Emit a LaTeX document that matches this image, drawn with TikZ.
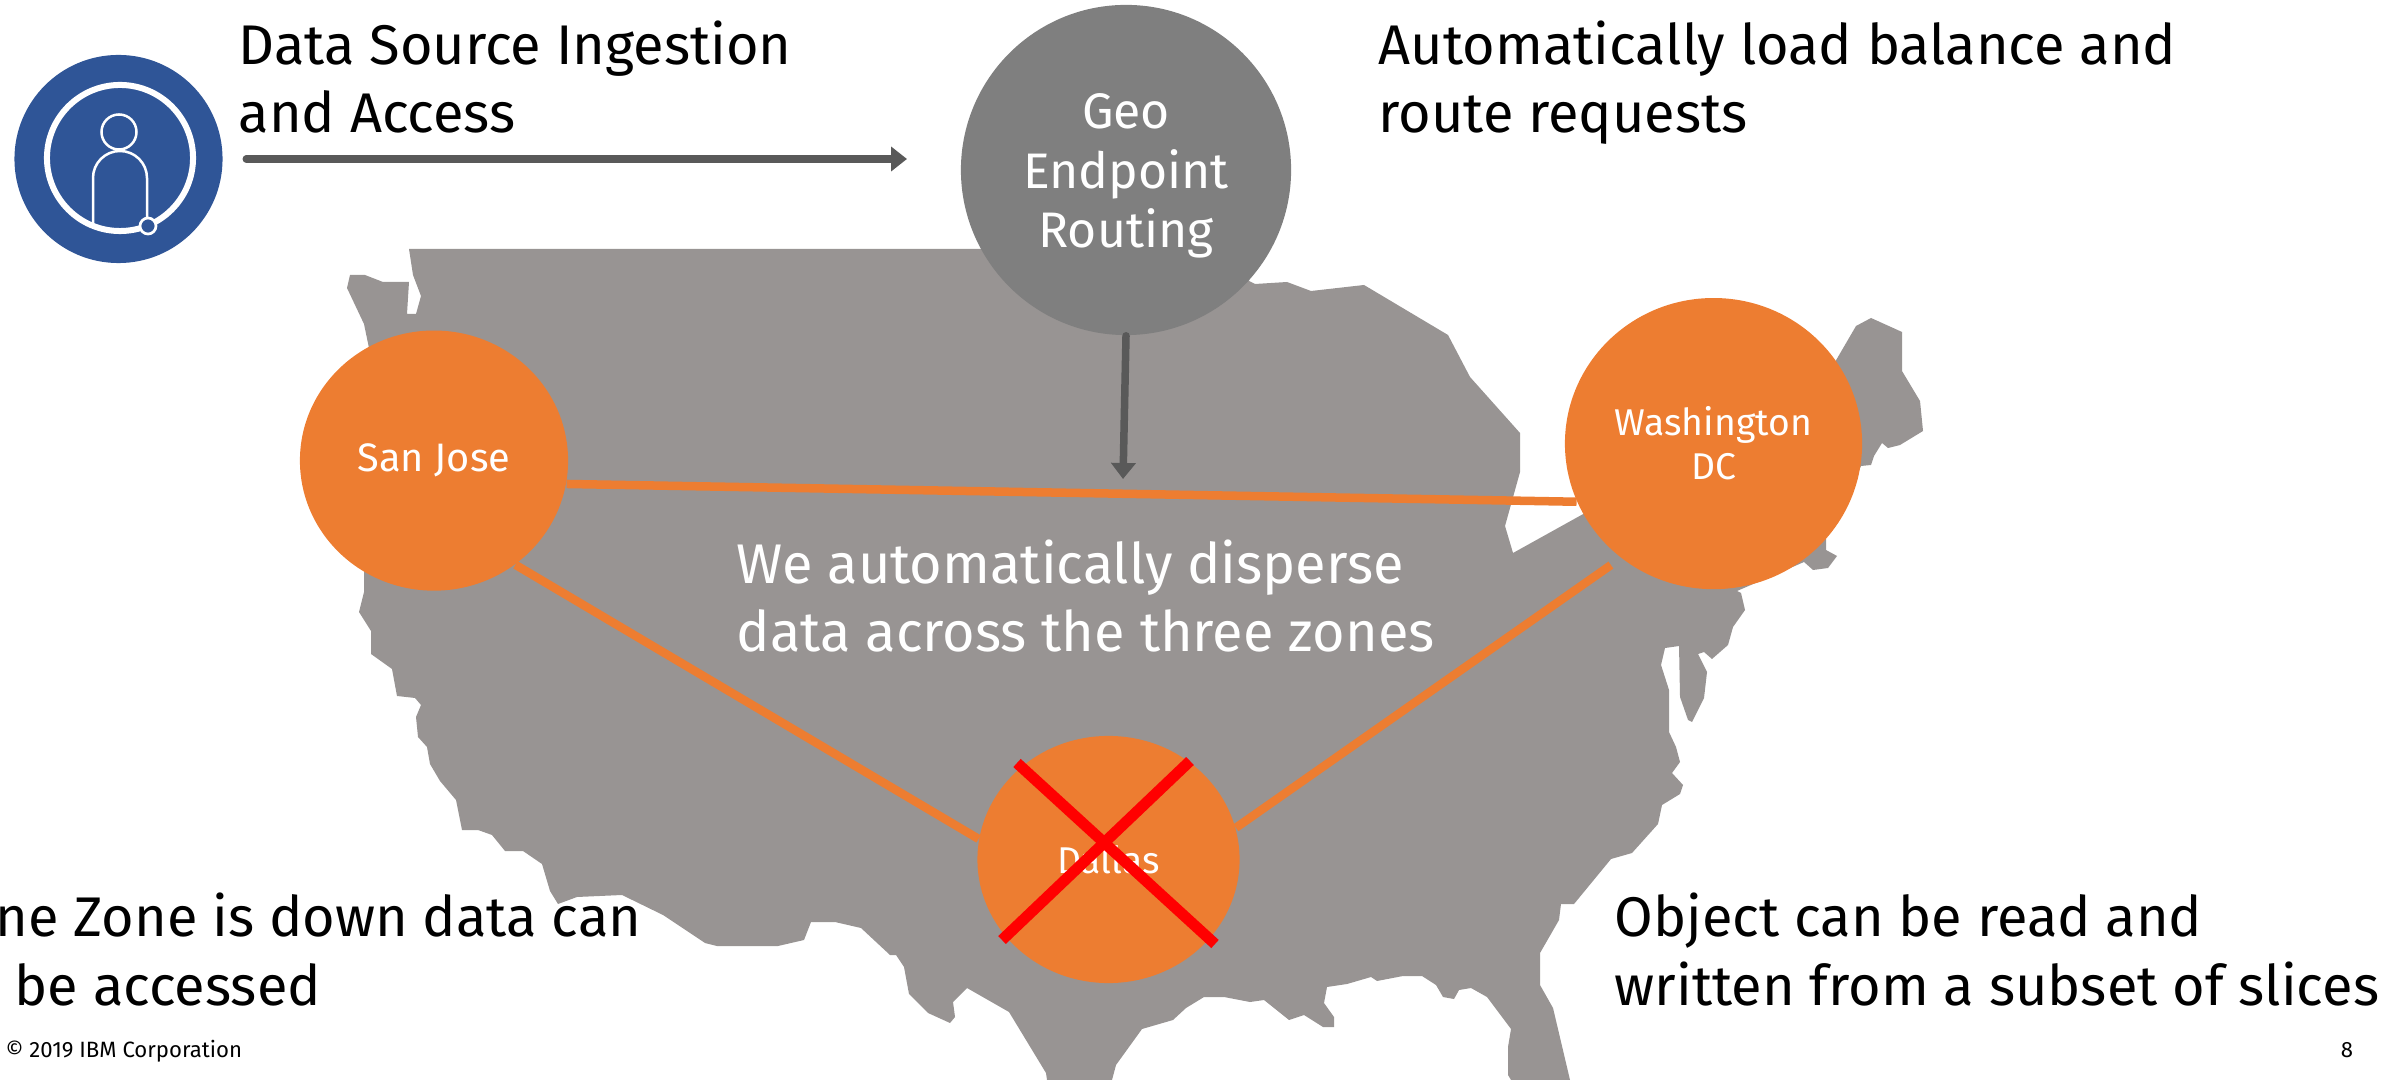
\documentclass[tikz,border=0pt]{standalone}
\usepackage{fontspec}
\setmainfont{Fira Sans}
\usetikzlibrary{shapes.geometric, arrows.meta}
\definecolor{mapgray}{HTML}{989493}
\definecolor{iconblue}{HTML}{2F5597}
\definecolor{zoneorange}{HTML}{ED7D31}
\definecolor{arrowgray}{HTML}{595959}
\definecolor{geogray}{HTML}{7F7F7F}
\tikzset{
  zone/.style={ellipse, fill=zoneorange, text=white, inner sep=0pt, align=center,
    font=\fontsize{10.6}{12.5}\selectfont},
  link/.style={draw=zoneorange, line width=0.085cm},
  feed/.style={draw=arrowgray, line width=0.075cm, line cap=round,
    -{Triangle[length=0.16cm,width=0.24cm]}},
  cross/.style={draw=red, line width=0.11cm},
  bigtext/.style={inner sep=0pt, anchor=base west,
    font=\fontsize{15.9}{19.35}\selectfont},
  small/.style={inner sep=0pt, font=\fontsize{6.3}{7.5}\selectfont}
}
\begin{document}
\begin{tikzpicture}[x=0.01cm, y=-0.01cm]
  \useasboundingbox (0,0) rectangle (2392,1080);
  \fill[mapgray] (409,249) -- (413,275) -- (421,296) -- (416,314) -- (407,314) -- (409,282)
    -- (383,282) -- (365,275) -- (350,275) -- (347,288) -- (364,324) -- (369,348)
    -- (364,571) -- (364,592) -- (359,612) -- (371,631) -- (371,654) -- (392,669)
    -- (397,696) -- (415,698) -- (421,705) -- (416,717) -- (418,737) -- (427,747)
    -- (430,764) -- (440,781) -- (456,800) -- (462,830) -- (478,830) -- (492,835)
    -- (505,851) -- (523,851) -- (542,864) -- (550,891) -- (558,904) -- (577,897)
    -- (622,895) -- (663,915) -- (705,943) -- (717,946) -- (778,946) -- (804,940)
    -- (811,922) -- (835,922) -- (861,928) -- (890,955) -- (896,955) -- (904,967)
    -- (909,994) -- (928,1013) -- (950,1023) -- (955,1017) -- (953,1002) -- (967,988)
    -- (1009,1012) -- (1046,1073) -- (1047,1080) -- (1112,1080) -- (1116,1065)
    -- (1142,1029) -- (1173,1020) -- (1186,1008) -- (1204,997) -- (1224,997)
    -- (1250,1002) -- (1264,1000) -- (1289,1020) -- (1304,1015) -- (1323,1027)
    -- (1334,1027) -- (1334,1017) -- (1324,1003) -- (1327,987) -- (1347,984)
    -- (1371,977) -- (1377,981) -- (1403,976) -- (1422,976) -- (1436,985) -- (1443,997)
    -- (1454,999) -- (1459,990) -- (1471,988) -- (1487,997) -- (1511,1029) -- (1508,1047)
    -- (1508,1075) -- (1511,1080) -- (1570,1080) -- (1553,1008) -- (1540,985)
    -- (1540,953) -- (1559,920) -- (1561,904) -- (1574,904) -- (1611,859) -- (1632,853)
    -- (1658,824) -- (1662,805) -- (1680,794) -- (1683,785) -- (1672,773) -- (1680,762)
    -- (1676,747) -- (1669,732) -- (1669,690) -- (1661,665) -- (1665,648) -- (1679,646)
    -- (1680,697) -- (1688,720) -- (1692,722) -- (1704,698) -- (1707,672) -- (1698,654)
    -- (1704,652) -- (1712,659) -- (1728,645) -- (1733,627) -- (1745,610) -- (1741,593)
    -- (1737,591) -- (1804,562) -- (1813,570) -- (1828,568) -- (1837,556) -- (1826,550)
    -- (1826,537) -- (1861,466) -- (1871,465) -- (1874,456) -- (1882,443) -- (1888,448)
    -- (1900,445) -- (1923,431) -- (1920,401) -- (1902,371) -- (1902,332) -- (1871,318)
    -- (1856,326) -- (1835,362) -- (1585,513) -- (1513,553) -- (1505,526) -- (1520,472)
    -- (1520,433) -- (1470,377) -- (1448,335) -- (1364,285) -- (1311,291) -- (1287,282)
    -- (1255,284) -- (1249,281) -- (1249,249) -- cycle;
  % user badge
  \node (icon) at (118.5,159) [circle, fill=iconblue, minimum size=2.08cm, inner sep=0pt] {};
  \node (ring) at (120,158) [circle, draw=white, line width=0.06cm, minimum size=1.46cm, inner sep=0pt] {};
  \node (head) at (119,132) [circle, draw=white, line width=0.025cm, minimum size=0.35cm, inner sep=0pt] {};
  \draw[white, line width=0.025cm] (93,223) -- (93,178) arc[start angle=180, end angle=360, radius=27] -- (147,217);
  \node (dot) at (148,226) [circle, draw=white, fill=iconblue, line width=0.027cm, minimum size=0.16cm, inner sep=0pt] {};
  % zones
  \node (geo) at (1126,170) [circle, fill=geogray, minimum size=3.3cm, inner sep=0pt] {};
  \node (geotext) at (1126,176) [text=white, inner sep=0pt, align=center,
    font=\fontsize{14.2}{17}\selectfont] {Geo\\Endpoint\\Routing};
  \node (z0) at (434,460.6) [zone, minimum width=2.68cm, minimum height=2.6cm,
    font=\fontsize{11.3}{13}\selectfont] {San Jose};
  \node (z1) at (1713.5,443.6) [zone, minimum width=2.97cm, minimum height=2.91cm] {Washington\\DC};
  \node (z2) at (1108.5,859.5) [zone, minimum width=2.62cm, minimum height=2.47cm] {Dallas};
  \begin{scope}[link]
    \draw (z0.-10) -- (z1.203);
    \draw (z0.-52) -- (z2.171);
    \draw[shorten >=0.12cm] (z2.14) -- (z1.231);
  \end{scope}
  \coordinate (x0) at (1017,763);
  \coordinate (x1) at (1215,944);
  \coordinate (x2) at (1190,761);
  \coordinate (x3) at (1002,940);
  \draw[cross] (x0) -- (x1);
  \draw[cross] (x2) -- (x3);
  % arrows
  \coordinate (tip0) at (907,159);
  \coordinate (tip1) at (1123,479);
  \draw[feed, shorten <=0.23cm] (icon) -- (tip0);
  \draw[feed] (geo.south) -- (tip1);
  % labels
  \node (t0) at (238,133) [bigtext, align=left] {Data Source Ingestion\\and Access};
  \node (t1) at (1378,133) [bigtext, align=left] {Automatically load balance and\\route requests};
  \node (t2) at (736,652) [bigtext, align=left, text=white] {We automatically disperse\\data across the three zones};
  \node (t3) at (-5,936) [bigtext] {ne Zone is down data can};
  \node (t4) at (14,1005) [bigtext] {be accessed};
  \node (t5) at (1614,1005) [bigtext, align=left] {Object can be read and\\written from a subset of slices};
  \node (foot) at (5,1057) [small, anchor=base west] {© 2019 IBM Corporation};
  \node (page) at (2340,1057) [small, anchor=base west] {8};
\end{tikzpicture}
\end{document}
